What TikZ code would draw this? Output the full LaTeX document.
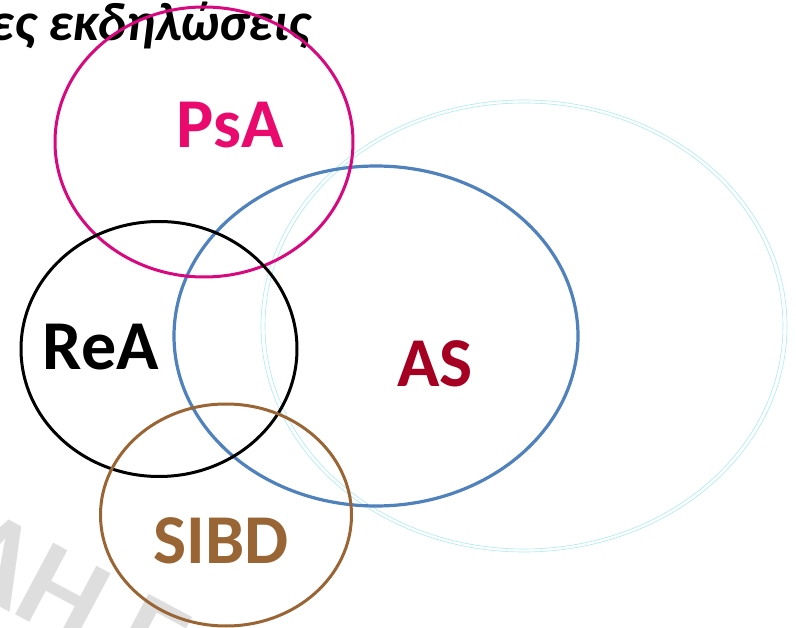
\documentclass[tikz,border=0pt]{standalone}
\usepackage{fontspec}
\setmainfont{Carlito}
\usetikzlibrary{shapes.geometric}
\definecolor{psaring}{HTML}{D8087F}
\definecolor{psatext}{HTML}{EA0A6E}
\definecolor{asring}{HTML}{4F81BD}
\definecolor{astext}{HTML}{A50021}
\definecolor{ibd}{HTML}{9A6534}
\definecolor{faintcyan}{HTML}{A8ECF2}
\definecolor{wmark}{HTML}{DEDEDE}
\tikzset{
  ring/.style={ellipse, draw, inner sep=0pt, outer sep=0pt},
  lbl/.style={font=\bfseries\fontsize{70}{70}\selectfont, anchor=base, inner sep=0pt},
}
\begin{document}
\begin{tikzpicture}[x=1pt,y=-1pt]
\useasboundingbox (0,0) rectangle (796,628);
\clip (0,0) rectangle (796,628);
\fill[white] (0,0) rectangle (796,628);
% watermark
\node[font=\bfseries\fontsize{125}{125}\selectfont, text=wmark, rotate=-28, anchor=base west, inner sep=0pt] (wm) at (-56,577) {ΛΗ Ε};
% faint double ellipse
\node[ring, draw=faintcyan, line width=0.6pt, minimum width=526pt, minimum height=452pt] (cyo) at (524,326) {};
\node[ring, draw=faintcyan, line width=0.6pt, minimum width=518pt, minimum height=446pt] (cyi) at (524,326) {};
% title
\node[font=\bfseries\itshape\fontsize{54}{54}\selectfont, anchor=base east, inner sep=0pt] (title) at (311,41) {ες εκδηλώσεις};
% rings
\node[ring, draw=asring, line width=3.2pt, minimum width=404pt, minimum height=340pt] (as) at (376,336) {};
\node[ring, draw=psaring, line width=3pt, minimum width=298pt, minimum height=270pt] (psa) at (204,142) {};
\node[ring, draw=black, line width=3pt, minimum width=276pt, minimum height=255pt] (rea) at (159,349) {};
\node[ring, draw=ibd, line width=3pt, minimum width=251pt, minimum height=222pt] (sibd) at (226,515) {};
% small cyan mark behind the A of PsA
\coordinate (m1) at (255,127);
\coordinate (m2) at (259,104);
\draw[faintcyan!60!cyan, line width=2.5pt, line cap=round] (m1) -- (m2);
% labels
\node[lbl, text=psatext] (psal) at (230,148) {PsA};
\node[lbl, text=black] (real) at (101,370) {ReA};
\node[lbl, text=astext] (asl) at (435,387) {AS};
\node[lbl, text=ibd] (sibdl) at (221,563) {SIBD};
\end{tikzpicture}
\end{document}
